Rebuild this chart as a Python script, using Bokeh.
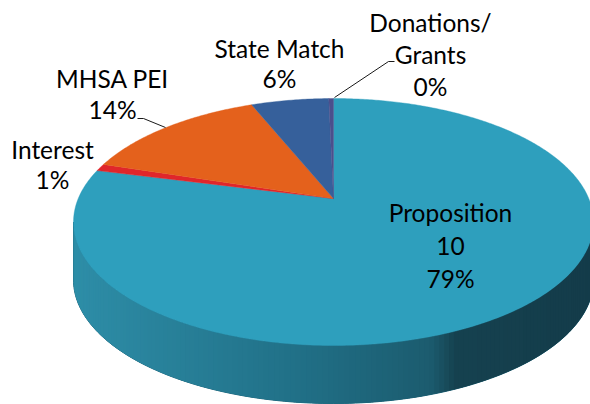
import numpy as np
from bokeh.plotting import figure
from bokeh.models import Range1d
from bokeh.core.properties import value
from bokeh.embed import file_html
from bokeh.resources import INLINE

# ---------------- data ----------------
categories = ["Proposition 10", "Interest", "MHSA PEI", "State Match", "Donations/Grants"]
shares = [78.95, 0.95, 13.95, 5.8, 0.35]          # percent of total
pct_labels = ["79%", "1%", "14%", "6%", "0%"]
name_lines = [["Proposition", "10"], ["Interest"], ["MHSA PEI"], ["State Match"], ["Donations/", "Grants"]]
colors = ["#2e9fbd", "#e0262b", "#e4611c", "#36609b", "#4b4f8c"]

# ---------------- layout / style ----------------
CX, CY, A, B = 333.0, 221.5, 260.0, 123.5   # top ellipse (pixels)
BETA = 0.19                                  # perspective shift of pie centre
T = 58.0                                     # pie thickness (pixels)
label_anchor = [(450, 212, 33), (52, 149, 30), (112, 78, 31), (279, 48, 30), (430, 22, 32)]
leaders = {2: ([137, 143, 165], [118, 118, 127]), 4: ([394, 388, 334], [61, 61, 97])}

W, H = 590, 404


def project(theta):
    x = np.sin(theta)
    y = np.cos(theta)
    g = 1.0 / np.sqrt(1 - BETA ** 2)
    X = x / (g * (1 + BETA * y))
    Y = (y + BETA) / (1 + BETA * y)
    return CX + A * X, CY - B * Y


p = figure(width=W, height=H, x_range=Range1d(0, W), y_range=Range1d(H, 0),
           output_backend="svg", toolbar_location=None, min_border=0,
           x_axis_location=None, y_axis_location=None)
p.grid.visible = False
p.outline_line_color = None
p.background_fill_color = "white"
p.border_fill_color = "white"

# ---------------- side wall (front, gradient) ----------------
N = 150
t = np.linspace(0, np.pi, N + 1)
sx = CX - A * np.cos(t)
sy = CY + B * np.sin(t)
stops_x = [CX - A, 300, 430, 455, CX + A]
stops_c = np.array([[46, 142, 168], [33, 112, 135], [28, 92, 111], [22, 66, 80], [20, 60, 74]])


def grad(xv):
    r = np.interp(xv, stops_x, stops_c[:, 0])
    g = np.interp(xv, stops_x, stops_c[:, 1])
    b = np.interp(xv, stops_x, stops_c[:, 2])
    return "#%02x%02x%02x" % (int(r), int(g), int(b))


# solid backing so no seams show between gradient strips
p.patch(list(sx) + list(sx[::-1]), list(sy) + list(sy[::-1] + T),
        fill_color="#1f6479", line_color="#1f6479", line_width=1)

xs_side, ys_side, c_side = [], [], []
for i in range(N):
    j = min(i + 2, N)
    xs_side.append([sx[i], sx[j], sx[j], sx[i]])
    ys_side.append([sy[i], sy[j], sy[j] + T, sy[i] + T])
    c_side.append(grad(0.5 * (sx[i] + sx[i + 1])))
p.patches(xs_side, ys_side, fill_color=c_side, line_color=None)

# ---------------- top face slices ----------------
tot = sum(shares)
start = 0.0
vx, vy = CX, CY - B * BETA
xs_top, ys_top = [], []
for s in shares:
    a0 = start / tot * 2 * np.pi
    a1 = (start + s) / tot * 2 * np.pi
    n = max(4, int(600 * s / tot))
    th = np.linspace(a0, a1, n)
    px, py = project(th)
    xs_top.append([vx] + list(px))
    ys_top.append([vy] + list(py))
    start += s
p.patches(xs_top, ys_top, fill_color=colors, line_color=colors, line_width=0.4)

# ---------------- leader lines ----------------
for k, (lx, ly) in leaders.items():
    p.line(lx, ly, line_color="#1a1a1a", line_width=1)

# ---------------- labels ----------------
tx, ty, tt = [], [], []
for i, (nl, pc) in enumerate(zip(name_lines, pct_labels)):
    cx, by, dy = label_anchor[i]
    for j, line in enumerate(nl + [pc]):
        tx.append(cx)
        ty.append(by + j * dy)
        tt.append(line)
p.text(x=tx, y=ty, text=tt, text_align="center", text_baseline="alphabetic",
       text_font=value("Lato"), text_font_size="24.5px", text_color="#000000")

open("out.html", "w").write(file_html(p, INLINE))
